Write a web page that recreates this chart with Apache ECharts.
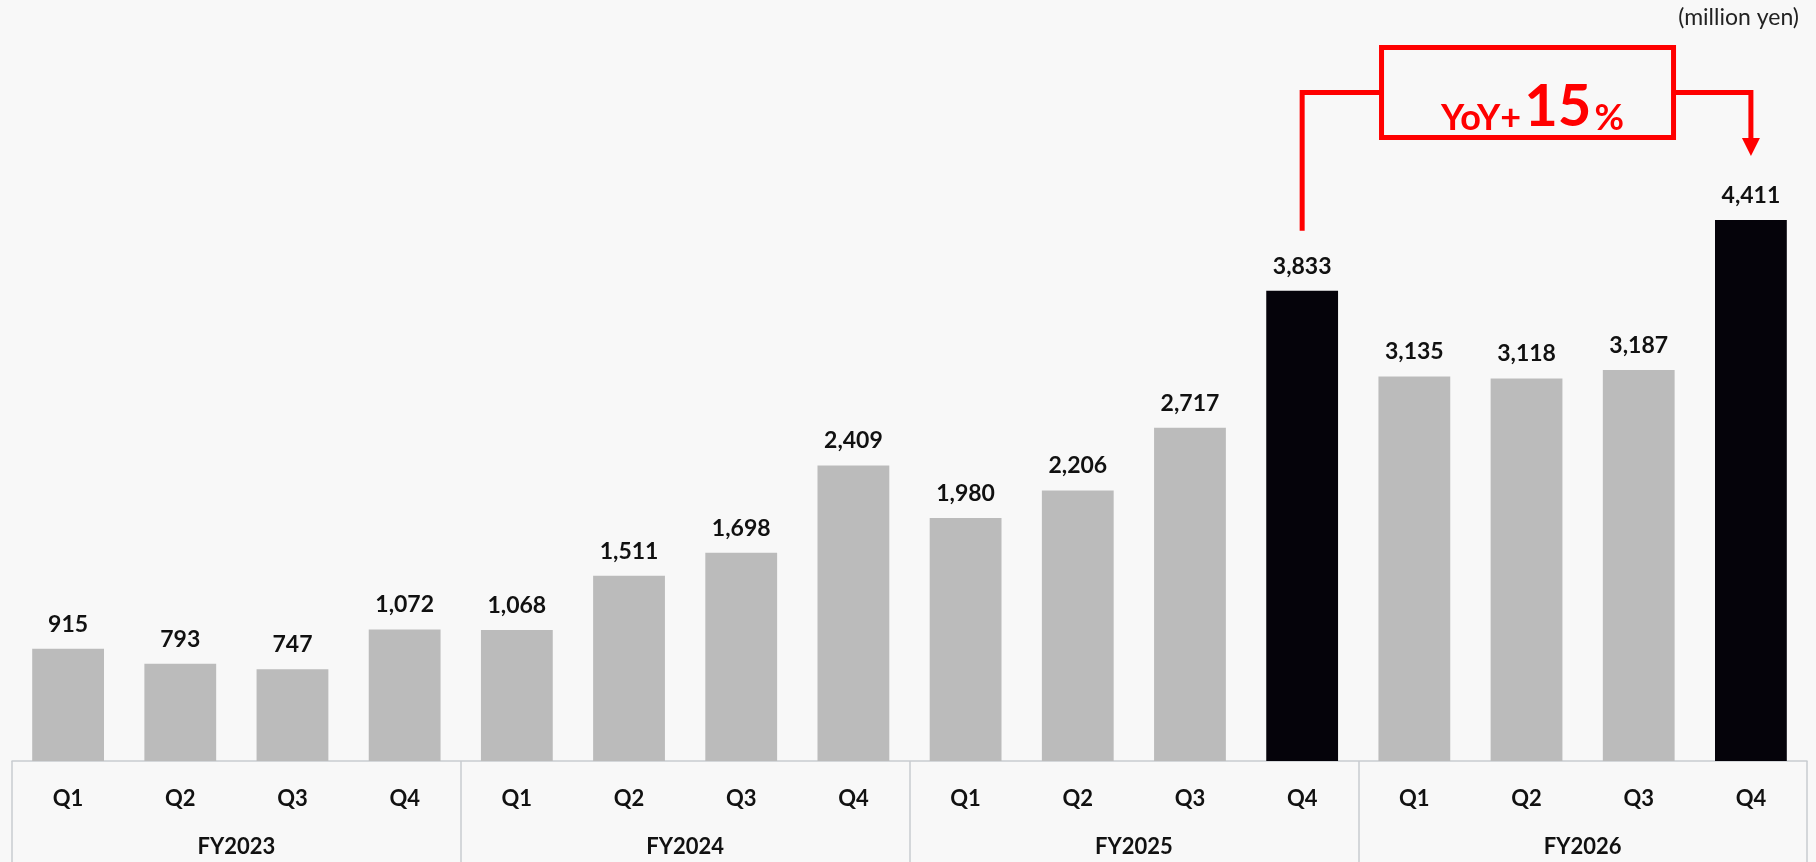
<!DOCTYPE html>
<html lang="en">
<head>
    <meta charset="UTF-8">
    <title>Quarterly revenue</title>
    <script src="https://cdn.jsdelivr.net/npm/echarts@6/dist/echarts.min.js"></script>
    <style>
        html, body { margin: 0; padding: 0; background: #f8f8f8; }
        #chart { width: 1816px; height: 862px; }
    </style>
</head>
<body>
    <div id="chart"></div>
    <script>
        // data (million yen)
        const quarters = ['Q1', 'Q2', 'Q3', 'Q4', 'Q1', 'Q2', 'Q3', 'Q4', 'Q1', 'Q2', 'Q3', 'Q4', 'Q1', 'Q2', 'Q3', 'Q4'];
        const fiscalYears = ['FY2023', 'FY2024', 'FY2025', 'FY2026'];
        const revenue = [915, 793, 747, 1072, 1068, 1511, 1698, 2409, 1980, 2206, 2717, 3833, 3135, 3118, 3187, 4411];
        const highlightIdx = [11, 15];   // Q4 FY2025 -> Q4 FY2026
        const yoyText = ['YoY+', '15', '%'];

        const gray = '#bbbbbb';
        const dark = '#05030a';
        const red = '#ff0000';
        const axisGray = '#c8ccd0';
        const font = 'Lato, "Open Sans", sans-serif';

        const chart = echarts.init(document.getElementById('chart'));

        const unitLabel = {
            type: 'text',
            right: 17,
            top: 6,
            style: { text: '(million yen)', font: '23px ' + font, fill: '#222' }
        };

        const option = {
            backgroundColor: '#f8f8f8',
            animation: false,
            grid: { left: 12, right: 9, top: 25, bottom: 101 },
            xAxis: [{
                type: 'category',
                data: quarters,
                position: 'bottom',
                axisLine: { show: true, lineStyle: { color: axisGray, width: 1.5 } },
                axisTick: { show: false },
                axisLabel: { margin: 27, fontFamily: font, fontWeight: 'bold', fontSize: 22, color: '#111' }
            }, {
                type: 'category',
                data: fiscalYears,
                position: 'bottom',
                offset: 0,
                axisLine: { show: false },
                axisTick: { show: true, length: 101, interval: 0, lineStyle: { color: axisGray, width: 1.5 } },
                axisLabel: { margin: 75, fontFamily: font, fontWeight: 'bold', fontSize: 22, color: '#111' }
            }],
            yAxis: {
                type: 'value',
                min: 0,
                max: 6000,
                show: false,
                splitLine: { show: false }
            },
            graphic: [unitLabel],
            series: [{
                type: 'bar',
                xAxisIndex: 0,
                barWidth: '64%',
                data: revenue.map((v, i) => ({
                    value: v,
                    itemStyle: { color: highlightIdx.includes(i) ? dark : gray }
                })),
                label: {
                    show: true,
                    position: 'top',
                    distance: 13,
                    fontFamily: font,
                    fontWeight: 'bold',
                    fontSize: 23,
                    color: '#111',
                    formatter: p => p.value.toLocaleString('en-US')
                }
            }]
        };

        chart.setOption(option);

        // YoY bracket anchored to the two highlighted bars
        const a = chart.convertToPixel({ seriesIndex: 0 }, [highlightIdx[0], revenue[highlightIdx[0]]]);
        const b = chart.convertToPixel({ seriesIndex: 0 }, [highlightIdx[1], revenue[highlightIdx[1]]]);
        const lineY = 92.5;
        const boxCx = (a[0] + b[0]) / 2 + 1;
        const boxHalfW = 146;
        const boxTop = 47.5, boxBottom = 137.5;
        const tipY = b[1] - 64;
        const stroke = { stroke: red, lineWidth: 5, fill: null, lineJoin: 'miter' };

        chart.setOption({
            graphic: [unitLabel, {
                type: 'polyline',
                shape: { points: [[a[0], a[1] - 60], [a[0], lineY], [boxCx - boxHalfW, lineY]] },
                style: stroke
            }, {
                type: 'rect',
                shape: { x: boxCx - boxHalfW, y: boxTop, width: boxHalfW * 2, height: boxBottom - boxTop },
                style: stroke
            }, {
                type: 'polyline',
                shape: { points: [[boxCx + boxHalfW, lineY], [b[0], lineY], [b[0], tipY - 16]] },
                style: stroke
            }, {
                type: 'polygon',
                shape: { points: [[b[0] - 9, tipY - 18], [b[0] + 9, tipY - 18], [b[0], tipY]] },
                style: { fill: red }
            }, {
                type: 'text',
                x: boxCx + 5,
                y: 107,
                style: {
                    text: '{s|' + yoyText[0] + '}{big|' + yoyText[1] + '}{s|' + yoyText[2] + '}',
                    align: 'center',
                    verticalAlign: 'middle',
                    rich: {
                        s: { font: 'bold 36px ' + font, fill: red, verticalAlign: 'bottom', padding: [14, 0, 0, 0] },
                        big: { font: 'bold 58px ' + font, fill: red, verticalAlign: 'bottom', padding: [0, 3, 0, 3] }
                    }
                }
            }]
        });
    </script>
</body>
</html>
